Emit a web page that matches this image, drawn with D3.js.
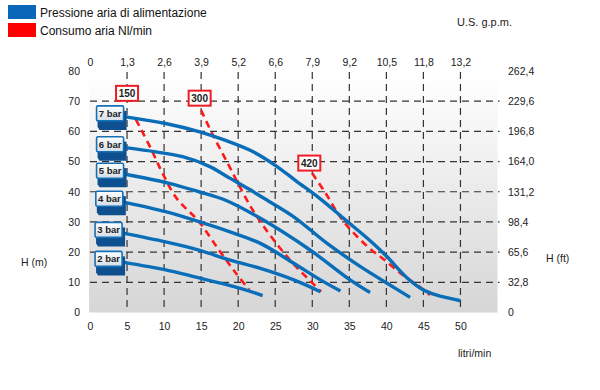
<!DOCTYPE html>
<html>
<head>
<meta charset="utf-8">
<script src="https://cdn.jsdelivr.net/npm/d3@7"></script>
<style>
  body { margin: 0; background: #fff; }
  text { font-family: "Liberation Sans", Arial, sans-serif; }
</style>
</head>
<body>
<div id="chart"></div>
<script>
// axis ticks
var flowTicks = [0, 5, 10, 15, 20, 25, 30, 35, 40, 45, 50];
var gpmLabels = ["0", "1,3", "2,6", "3,9", "5,2", "6,6", "7,9", "9,2", "10,5", "11,8", "13,2"];
var headTicks = [0, 10, 20, 30, 40, 50, 60, 70, 80];
var ftLabels = ["0", "32,8", "65,6", "98,4", "131,2", "164,0", "196,8", "229,6", "262,4"];

// pressure curves: [litri/min, H (m)]
var bar7 = [[4.8, 64.8], [10.2, 62.6], [14.7, 59.9], [18.3, 57], [21.9, 53.4], [25.1, 48.6], [27.8, 43.6], [31, 37.8], [34.5, 30.6], [37.7, 24], [40, 18.7], [42.7, 11.7], [44.9, 7.6], [46.7, 5.8], [50, 3.9]];
var bar6 = [[4.8, 54.6], [8.9, 53.2], [12.5, 51.6], [16.1, 48.4], [18.8, 44.6], [21.5, 40.8], [23.7, 37.5], [27.5, 31.7], [32, 22.9], [36.5, 15.2], [40.1, 9.7], [43.2, 5]];
var bar5 = [[4.8, 45.8], [10.7, 42.8], [14.7, 40], [18.3, 37.2], [23, 31.2], [29.7, 20.7], [35.1, 10.8], [37.8, 6.6]];
var bar4 = [[4.7, 36.5], [10.2, 33.4], [14.7, 30.1], [18.8, 26.8], [23, 22.9], [27.5, 16.3], [31.1, 10.8], [33.8, 7.1]];
var bar3 = [[4.6, 26.2], [10.2, 23.4], [14.7, 20.7], [18.8, 17.4], [23, 14.6], [27.5, 10.8], [31.1, 6.9]];
var bar2 = [[4.6, 16.6], [10.2, 14.1], [14, 11.9], [20.3, 8], [23.3, 5.6]];
var barNames = ["7 bar", "6 bar", "5 bar", "4 bar", "3 bar", "2 bar"];

// air consumption lines (Nl/min)
var air150 = [[6.2, 63.9], [8.2, 54.4], [9.8, 46.1], [11.7, 37.8], [14.7, 30.1], [17.4, 20.7], [19.7, 13], [21.5, 7.5]];
var air300 = [[15, 67], [16.7, 58.2], [18.6, 49.4], [20.1, 42.2], [21.7, 35], [23.3, 29], [25.5, 21.8], [27.8, 15.2], [29.6, 10.8], [31.2, 6.9]];
var air420 = [[30, 46.1], [31.8, 39.5], [33.6, 32.3], [35, 27.9], [37.7, 21.3], [39.5, 17.9], [42.2, 12.4], [44.5, 8.5], [45.9, 5.8]];
var airNames = ["150", "300", "420"];
var airLabelAt = [[5, 72.6], [14.8, 71], [29.6, 49.5]];

var svgWidth = 600;
var svgHeight = 390;

var svg = d3.select("#chart")
  .append("svg")
  .attr("width", svgWidth)
  .attr("height", svgHeight);

var xScale = d3.scaleLinear().domain([0, 55]).range([90, 497.5]);
var yScale = d3.scaleLinear().domain([0, 80]).range([312.5, 71]);

// background gradient
var defs = svg.append("defs");
var grad = defs.append("linearGradient")
  .attr("id", "bg").attr("x1", 0).attr("y1", 0).attr("x2", 0).attr("y2", 1);
grad.append("stop").attr("offset", "0%").attr("stop-color", "#ffffff");
grad.append("stop").attr("offset", "100%").attr("stop-color", "#d6d6d6");

var faceGrad = defs.append("linearGradient")
  .attr("id", "face").attr("x1", 0).attr("y1", 0).attr("x2", 0).attr("y2", 1);
faceGrad.append("stop").attr("offset", "0%").attr("stop-color", "#ffffff");
faceGrad.append("stop").attr("offset", "100%").attr("stop-color", "#d3dde8");

svg.append("rect")
  .attr("x", xScale(0) - 1)
  .attr("y", yScale(80) + 1)
  .attr("width", xScale(55) - xScale(0) + 1)
  .attr("height", yScale(0) - yScale(80) - 1)
  .attr("fill", "url(#bg)");

// grid lines
var grid = svg.append("g")
  .attr("stroke", "#333")
  .attr("stroke-width", 1.2)
  .attr("stroke-dasharray", "7,5");

grid.selectAll(".vgrid")
  .data(flowTicks.slice(1))
  .enter().append("line")
  .attr("x1", d => xScale(d)).attr("x2", d => xScale(d))
  .attr("y1", yScale(80) + 1).attr("y2", yScale(0) - 3);

grid.selectAll(".hgrid")
  .data(headTicks.slice(1, -1))
  .enter().append("line")
  .attr("x1", xScale(0)).attr("x2", xScale(55) + 2)
  .attr("y1", d => yScale(d)).attr("y2", d => yScale(d));

// axes (labels only)
function styleAxis(g) {
  g.select(".domain").remove();
  g.selectAll("line").remove();
  g.selectAll("text")
    .attr("fill", "#222")
    .style("font-size", "10.5px");
}

svg.append("g")
  .attr("transform", "translate(84,0)")
  .call(d3.axisLeft(yScale).tickValues(headTicks).tickSize(0).tickPadding(4))
  .call(styleAxis);

svg.append("g")
  .attr("transform", "translate(504,0)")
  .call(d3.axisRight(yScale).tickValues(headTicks).tickSize(0).tickPadding(4)
    .tickFormat((d, i) => ftLabels[i]))
  .call(styleAxis);

svg.append("g")
  .attr("transform", "translate(0,66)")
  .call(d3.axisTop(xScale).tickValues(flowTicks).tickSize(0).tickPadding(0)
    .tickFormat((d, i) => gpmLabels[i]))
  .call(styleAxis);

svg.append("g")
  .attr("transform", "translate(0,323)")
  .call(d3.axisBottom(xScale).tickValues(flowTicks).tickSize(0).tickPadding(0))
  .call(styleAxis);

// axis titles
svg.append("text").attr("x", 21).attr("y", 266).text("H (m)")
  .attr("fill", "#222").style("font-size", "10.5px");
svg.append("text").attr("x", 546).attr("y", 262).text("H (ft)")
  .attr("fill", "#222").style("font-size", "10.5px");
svg.append("text").attr("x", 458).attr("y", 357).text("litri/min")
  .attr("fill", "#222").style("font-size", "10.5px");
svg.append("text").attr("x", 457).attr("y", 26).text("U.S. g.p.m.")
  .attr("fill", "#222").style("font-size", "11px");

var line = d3.line()
  .x(d => xScale(d[0]))
  .y(d => yScale(d[1]))
  .curve(d3.curveCatmullRom.alpha(0.5));

// air consumption lines
var airSeries = [air150, air300, air420];
svg.selectAll(".air")
  .data(airSeries)
  .enter().append("path")
  .attr("d", line)
  .attr("fill", "none")
  .attr("stroke", "#ff1a1a")
  .attr("stroke-width", 2.6)
  .attr("stroke-dasharray", "7,5");

// pressure curves
var barSeries = [bar7, bar6, bar5, bar4, bar3, bar2];
svg.selectAll(".bar")
  .data(barSeries)
  .enter().append("path")
  .attr("d", line)
  .attr("fill", "none")
  .attr("stroke", "#0a6db8")
  .attr("stroke-width", 3.4);

// pressure labels (3D boxes)
var boxW = 27, boxH = 15;
var tags = svg.selectAll(".tag")
  .data(barSeries)
  .enter().append("g")
  .attr("transform", d => `translate(${xScale(d[0][0]) - boxW - 2}, ${yScale(d[0][1]) - 11})`);

tags.append("path")
  .attr("d", `M1,2 L${boxW + 3},5 L${boxW + 3},${boxH + 9} L3,${boxH + 9} L1,${boxH + 6} Z`)
  .attr("fill", "#0d4f8f");

tags.append("rect")
  .attr("width", boxW).attr("height", boxH)
  .attr("rx", 1.5)
  .attr("fill", "url(#face)")
  .attr("stroke", "#1670b8")
  .attr("stroke-width", 1.6);

tags.append("text")
  .attr("x", boxW / 2).attr("y", boxH / 2 + 3.5)
  .attr("text-anchor", "middle")
  .attr("fill", "#222")
  .style("font-size", "9.5px")
  .style("font-weight", "bold")
  .text((d, i) => barNames[i]);

// air consumption labels
var airTags = svg.selectAll(".airtag")
  .data(airLabelAt)
  .enter().append("g")
  .attr("transform", d => `translate(${xScale(d[0])}, ${yScale(d[1])})`);

airTags.append("rect")
  .attr("x", -11).attr("y", -7.5)
  .attr("width", 22).attr("height", 15)
  .attr("fill", "#fff")
  .attr("stroke", "#ee1c25")
  .attr("stroke-width", 2);

airTags.append("text")
  .attr("y", 3.5)
  .attr("text-anchor", "middle")
  .attr("fill", "#222")
  .style("font-size", "10px")
  .style("font-weight", "bold")
  .text((d, i) => airNames[i]);

// legend
var legend = [["Pressione aria di alimentazione", "#0a66b8"], ["Consumo aria Nl/min", "#ff0000"]];
var leg = svg.selectAll(".legend")
  .data(legend)
  .enter().append("g")
  .attr("transform", (d, i) => `translate(8, ${5 + i * 18})`);

leg.append("rect")
  .attr("width", 28).attr("height", 14)
  .attr("fill", d => d[1]);

leg.append("text")
  .attr("x", 32).attr("y", 11.5)
  .attr("fill", "#111")
  .style("font-size", "12px")
  .text(d => d[0]);
</script>
</body>
</html>
